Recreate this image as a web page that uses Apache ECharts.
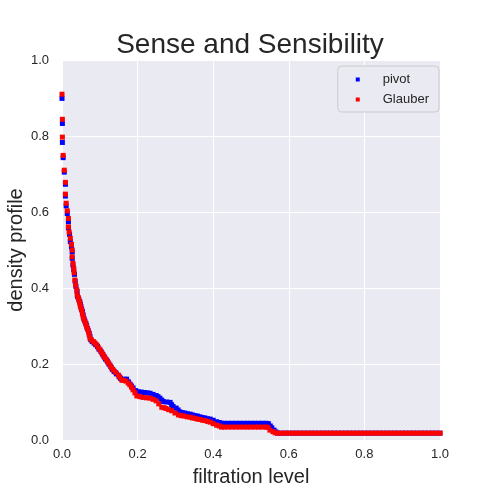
<!DOCTYPE html>
<html>
<head>
<meta charset="utf-8">
<script src="https://cdn.jsdelivr.net/npm/echarts@6/dist/echarts.min.js"></script>
<style>
  html, body { margin: 0; padding: 0; background: #fff; }
  #main { width: 500px; height: 500px; }
</style>
</head>
<body>
<div id="main"></div>
<script type="text/javascript">
    // values: [filtration level, density profile]
    var pivot = [
        [0, 0.899], [0.001, 0.833], [0.001, 0.783], [0.003, 0.743], [0.006, 0.705],
        [0.009, 0.673], [0.009, 0.642], [0.011, 0.616], [0.014, 0.596], [0.017, 0.575], [0.017, 0.558],
        [0.020, 0.541], [0.022, 0.522], [0.025, 0.508], [0.027, 0.495], [0.027, 0.478], [0.029, 0.460],
        [0.031, 0.448], [0.033, 0.436], [0.035, 0.417], [0.037, 0.404], [0.040, 0.391], [0.041, 0.378],
        [0.044, 0.371], [0.047, 0.364], [0.049, 0.357], [0.050, 0.351], [0.052, 0.344], [0.054, 0.338],
        [0.056, 0.329], [0.058, 0.320], [0.060, 0.314], [0.063, 0.307], [0.065, 0.301], [0.067, 0.294],
        [0.070, 0.287], [0.072, 0.281], [0.074, 0.273], [0.076, 0.264], [0.080, 0.259], [0.085, 0.255],
        [0.089, 0.251], [0.094, 0.246], [0.098, 0.239], [0.103, 0.233], [0.107, 0.226], [0.111, 0.220],
        [0.115, 0.213], [0.120, 0.207], [0.124, 0.200], [0.129, 0.193], [0.133, 0.186], [0.138, 0.180],
        [0.144, 0.174], [0.151, 0.167], [0.155, 0.162], [0.160, 0.158], [0.165, 0.160], [0.171, 0.160],
        [0.176, 0.153], [0.180, 0.147], [0.184, 0.142], [0.188, 0.137], [0.195, 0.130], [0.202, 0.127],
        [0.210, 0.126], [0.218, 0.125], [0.226, 0.124], [0.233, 0.123], [0.241, 0.120], [0.249, 0.117],
        [0.254, 0.114], [0.259, 0.110], [0.264, 0.105], [0.268, 0.101], [0.277, 0.100], [0.286, 0.099],
        [0.290, 0.093], [0.294, 0.088], [0.302, 0.084], [0.307, 0.079], [0.312, 0.074], [0.318, 0.072],
        [0.325, 0.071], [0.332, 0.069], [0.339, 0.068], [0.345, 0.066], [0.352, 0.064], [0.358, 0.063],
        [0.365, 0.061], [0.372, 0.059], [0.378, 0.058], [0.385, 0.056], [0.392, 0.055], [0.400, 0.052],
        [0.409, 0.048], [0.416, 0.046], [0.422, 0.044], [0.430, 0.044], [0.440, 0.044], [0.450, 0.044],
        [0.460, 0.044], [0.470, 0.044], [0.480, 0.044], [0.490, 0.044], [0.500, 0.044], [0.510, 0.044],
        [0.520, 0.044], [0.530, 0.044], [0.540, 0.044], [0.546, 0.043], [0.551, 0.037], [0.555, 0.032],
        [0.561, 0.026], [0.566, 0.021], [0.570, 0.018], [0.580, 0.018], [0.590, 0.018], [0.600, 0.018],
        [0.610, 0.018], [0.620, 0.018], [0.630, 0.018], [0.640, 0.018], [0.650, 0.018], [0.660, 0.018],
        [0.670, 0.018], [0.680, 0.018], [0.690, 0.018], [0.700, 0.018], [0.710, 0.018], [0.720, 0.018],
        [0.730, 0.018], [0.740, 0.018], [0.750, 0.018], [0.760, 0.018], [0.770, 0.018], [0.780, 0.018],
        [0.790, 0.018], [0.800, 0.018], [0.810, 0.018], [0.820, 0.018], [0.830, 0.018], [0.840, 0.018],
        [0.850, 0.018], [0.860, 0.018], [0.870, 0.018], [0.880, 0.018], [0.890, 0.018], [0.900, 0.018],
        [0.910, 0.018], [0.920, 0.018], [0.930, 0.018], [0.940, 0.018], [0.950, 0.018], [0.960, 0.018],
        [0.970, 0.018], [0.980, 0.018], [0.990, 0.018], [1.000, 0.018]
    ];

    var glauber = [
        [0, 0.910], [0.001, 0.844], [0.001, 0.797], [0.003, 0.749], [0.006, 0.710],
        [0.009, 0.678], [0.009, 0.647], [0.011, 0.623], [0.014, 0.603], [0.017, 0.583], [0.017, 0.561],
        [0.019, 0.547], [0.022, 0.531], [0.025, 0.515], [0.027, 0.500], [0.027, 0.482], [0.029, 0.465],
        [0.031, 0.452], [0.032, 0.440], [0.034, 0.421], [0.036, 0.408], [0.039, 0.395], [0.040, 0.382],
        [0.043, 0.375], [0.045, 0.368], [0.047, 0.361], [0.048, 0.355], [0.050, 0.348], [0.052, 0.342],
        [0.054, 0.333], [0.056, 0.324], [0.058, 0.318], [0.061, 0.311], [0.063, 0.305], [0.065, 0.298],
        [0.068, 0.291], [0.070, 0.285], [0.072, 0.277], [0.074, 0.268], [0.078, 0.263], [0.083, 0.259],
        [0.087, 0.255], [0.092, 0.250], [0.096, 0.243], [0.101, 0.237], [0.105, 0.230], [0.109, 0.224],
        [0.113, 0.217], [0.118, 0.211], [0.122, 0.204], [0.127, 0.197], [0.131, 0.190], [0.136, 0.184],
        [0.142, 0.178], [0.149, 0.171], [0.153, 0.165], [0.158, 0.158], [0.163, 0.157], [0.169, 0.155],
        [0.175, 0.150], [0.180, 0.145], [0.184, 0.139], [0.188, 0.132], [0.193, 0.124], [0.198, 0.116],
        [0.206, 0.114], [0.214, 0.112], [0.223, 0.111], [0.233, 0.110], [0.241, 0.107], [0.249, 0.103],
        [0.256, 0.095], [0.264, 0.086], [0.270, 0.085], [0.275, 0.083], [0.282, 0.080], [0.290, 0.077],
        [0.299, 0.071], [0.308, 0.066], [0.315, 0.064], [0.323, 0.063], [0.331, 0.061], [0.339, 0.060],
        [0.345, 0.058], [0.352, 0.057], [0.358, 0.055], [0.365, 0.054], [0.372, 0.052], [0.378, 0.051],
        [0.385, 0.049], [0.392, 0.047], [0.400, 0.043], [0.409, 0.039], [0.416, 0.037], [0.422, 0.034],
        [0.430, 0.034], [0.440, 0.034], [0.450, 0.034], [0.460, 0.034], [0.470, 0.034], [0.480, 0.034],
        [0.490, 0.034], [0.500, 0.034], [0.510, 0.034], [0.520, 0.034], [0.530, 0.034], [0.540, 0.034],
        [0.545, 0.033], [0.550, 0.026], [0.558, 0.022], [0.564, 0.019], [0.570, 0.018], [0.580, 0.018],
        [0.590, 0.018], [0.600, 0.018], [0.610, 0.018], [0.620, 0.018], [0.630, 0.018], [0.640, 0.018],
        [0.650, 0.018], [0.660, 0.018], [0.670, 0.018], [0.680, 0.018], [0.690, 0.018], [0.700, 0.018],
        [0.710, 0.018], [0.720, 0.018], [0.730, 0.018], [0.740, 0.018], [0.750, 0.018], [0.760, 0.018],
        [0.770, 0.018], [0.780, 0.018], [0.790, 0.018], [0.800, 0.018], [0.810, 0.018], [0.820, 0.018],
        [0.830, 0.018], [0.840, 0.018], [0.850, 0.018], [0.860, 0.018], [0.870, 0.018], [0.880, 0.018],
        [0.890, 0.018], [0.900, 0.018], [0.910, 0.018], [0.920, 0.018], [0.930, 0.018], [0.940, 0.018],
        [0.950, 0.018], [0.960, 0.018], [0.970, 0.018], [0.980, 0.018], [0.990, 0.018], [1.000, 0.018]
    ];

    var seriesNames = ['pivot', 'Glauber'];
    var seriesColors = ['#0000ff', '#ff0000'];

    var font = '"Liberation Sans", Arial, sans-serif';
    var textColor = '#262626';

    var myChart = echarts.init(document.getElementById('main'));
    var option = {
        backgroundColor: '#ffffff',
        animation: false,
        title: {
            text: 'Sense and Sensibility',
            left: 'center',
            top: 26,
            textStyle: { fontFamily: font, fontSize: 28, fontWeight: 'normal', color: textColor }
        },
        legend: {
            orient: 'vertical',
            right: 61,
            top: 66,
            padding: [7, 10, 6, 18],
            itemGap: 7,
            itemWidth: 4,
            itemHeight: 4,
            icon: 'rect',
            backgroundColor: '#eaeaf2',
            borderColor: '#cccccc',
            borderWidth: 1,
            borderRadius: 4,
            itemStyle: { opacity: 1 },
            textStyle: { fontFamily: font, fontSize: 13, color: textColor, padding: [0, 0, 0, 18] },
            data: seriesNames
        },
        grid: {
            left: 62, right: 60, top: 60, bottom: 60,
            outerBoundsMode: 'none',
            containLabel: false,
            show: true,
            backgroundColor: '#eaeaf2',
            borderWidth: 0
        },
        xAxis: {
            type: 'value',
            min: 0, max: 1, interval: 0.2,
            name: 'filtration level',
            nameLocation: 'middle',
            nameGap: 27,
            nameMoveOverlap: false,
            nameTextStyle: { fontFamily: font, fontSize: 20, color: textColor },
            axisLine: { show: false },
            axisTick: { show: false },
            axisLabel: {
                fontFamily: font, fontSize: 13, color: textColor, margin: 8,
                formatter: function (v) { return v.toFixed(1); }
            },
            splitLine: { show: true, lineStyle: { color: '#ffffff', width: 1 } }
        },
        yAxis: {
            type: 'value',
            min: 0, max: 1, interval: 0.2,
            name: 'density profile',
            nameLocation: 'middle',
            nameGap: 36,
            nameMoveOverlap: false,
            nameTextStyle: { fontFamily: font, fontSize: 20, color: textColor },
            axisLine: { show: false },
            axisTick: { show: false },
            axisLabel: {
                fontFamily: font, fontSize: 13, color: textColor, margin: 13,
                formatter: function (v) { return v.toFixed(1); }
            },
            splitLine: { show: true, lineStyle: { color: '#ffffff', width: 1 } }
        },
        series: [
            {
                name: seriesNames[0],
                type: 'scatter',
                symbol: 'rect',
                symbolSize: 5,
                itemStyle: { color: seriesColors[0], opacity: 1 },
                data: pivot
            },
            {
                name: seriesNames[1],
                type: 'scatter',
                symbol: 'rect',
                symbolSize: 5,
                itemStyle: { color: seriesColors[1], opacity: 1 },
                data: glauber
            }
        ]
    };

    myChart.setOption(option);
</script>
</body>
</html>
